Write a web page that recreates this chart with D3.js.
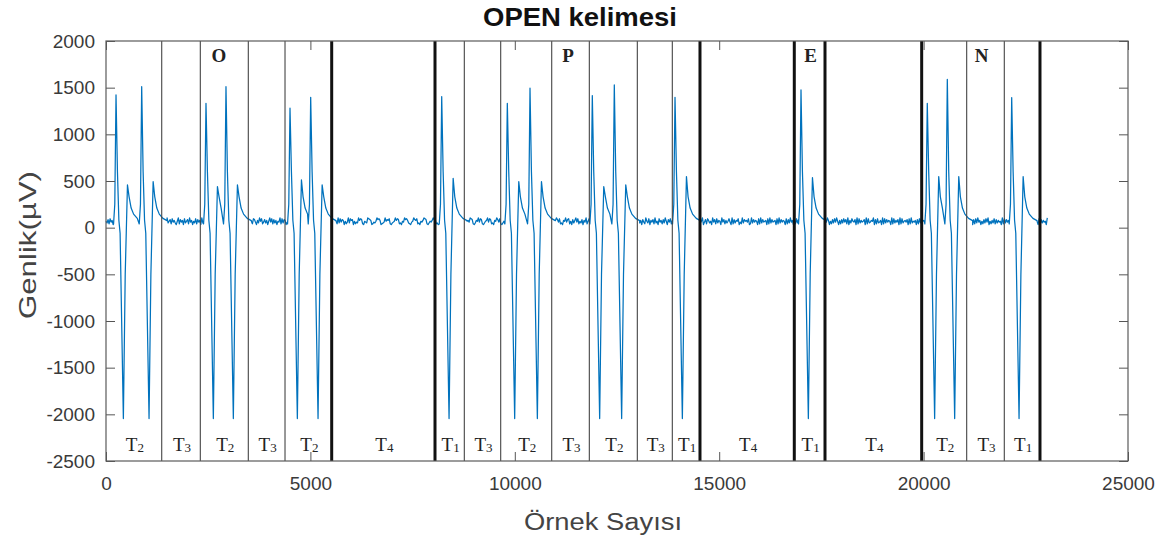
<!DOCTYPE html>
<html>
<head>
<meta charset="utf-8">
<script src="https://cdn.jsdelivr.net/npm/d3@7"></script>
<style>
  html, body { margin: 0; padding: 0; background: #ffffff; }
  svg { display: block; }
</style>
</head>
<body>
<svg id="chart" width="1163" height="543"></svg>
<script>
// ---- Axis ticks ----
const xTicks = [0, 5000, 10000, 15000, 20000, 25000];
const yTicks = [2000, 1500, 1000, 500, 0, -500, -1000, -1500, -2000, -2500];

// ---- Eye-movement events (sample index of the positive spike) ----
const spikeSamples = [245, 873, 2446, 2935, 4501, 5007, 8212, 9817, 10372, 11896, 12434, 13919, 17001, 20090, 20580, 22155];
const spikePeaks   = [1422, 1511, 1333, 1511, 1280, 1397, 1404, 1333, 1494, 1415, 1529, 1397, 1476, 1333, 1590, 1394];
const spikeTroughs = [-2045, -2045, -2045, -2045, -2045, -2045, -2045, -2045, -2045, -2045, -2045, -2045, -2045, -2045, -2045, -2045];
const spikeHumps   = [458, 493, 440, 458, 511, 458, 529, 493, 493, 440, 458, 547, 536, 547, 547, 547];

// Waveform of one event: sample offset from the spike and amplitude (µV)
const waveOffsets = [-60, -30, 0, 35, 70, 100, 180, 225, 280, 320, 370, 430, 520, 620];
const waveValues  = [40, 250, "peak", 600, 80, -60, "trough", -500, "hump", 330, 210, 145, 100, 75];

// Resting level between events and its jitter (one digit every 25 samples)
const restLevel = 64;
const restJitter =
  "53728461935728463159274618357294615382746193528741" +
  "63958247361594827361549283761452938476152493867152" +
  "43968721543987612435978612349576821345968723154978" +
  "63214597682315469872135469782315649872136594872135" +
  "69487231659748213569748231659478251736948253716492" +
  "58361742953816472935184627395174826359147286351947" +
  "28365194726358419273658142937564812937465182937456" +
  "18293745618293746518273946152837496152738495162738" +
  "47291638547192836457192834659172834619283746519283" +
  "64719283564718293546172839465172839461527384915263" +
  "82736451928374651827364519283746518293746152839746" +
  "39184726539184726354918276345918276349518273645192" +
  "75318264937518246397518264937152846397152486392751";
const recordLength = 23050;

// ---- Segment boundaries and labels ----
const boundarySamples = [1363, 2307, 3481, 4379, 5521, 8048, 8765, 9655, 10903, 11823, 12997, 13853, 14530, 16837, 17588, 19953, 21054, 21974, 22847];
const boundaryHeavy   = [false, false, false, false, true, true, false, false, false, false, false, false, true, true, true, true, false, false, true];
const segmentTypes    = [2, 3, 2, 3, 2, 4, 1, 3, 2, 3, 2, 3, 1, 4, 1, 4, 2, 3, 1];
const letters         = ["O", "P", "E", "N"];
const letterSamples   = [2764, 11301, 17238, 21421];

// ---- Layout ----
const svg = d3.select("#chart");
const plot = { left: 106, right: 1128, top: 41, bottom: 461 };

const x = d3.scaleLinear().domain([0, 25000]).range([plot.left, plot.right]);
const y = d3.scaleLinear().domain([-2500, 2000]).range([plot.bottom, plot.top]);

// ---- Build the trace ----
const trace = [];
let jitterIdx = 0;
function addRest(from, to) {
  for (let s = from; s < to; s += 25) {
    const d = jitterIdx < restJitter.length ? +restJitter[jitterIdx] : 4.5;
    jitterIdx++;
    trace.push([s, restLevel + (d - 4.5) * 9]);
  }
}
let cursor = 0;
spikeSamples.forEach((s, i) => {
  const start = s + waveOffsets[0];
  addRest(cursor, start);
  const limit = i < spikeSamples.length - 1
    ? Math.min(s + waveOffsets[waveOffsets.length - 1] + 1, spikeSamples[i + 1] + waveOffsets[0])
    : s + waveOffsets[waveOffsets.length - 1] + 1;
  waveOffsets.forEach((dt, k) => {
    if (s + dt >= limit) return;
    let v = waveValues[k];
    if (v === "peak") v = spikePeaks[i];
    else if (v === "trough") v = spikeTroughs[i];
    else if (v === "hump") v = spikeHumps[i];
    trace.push([s + dt, v]);
  });
  cursor = limit;
});
addRest(cursor, recordLength);

// ---- Signal ----
svg.append("path")
  .datum(trace)
  .attr("fill", "none")
  .attr("stroke", "#0072BD")
  .attr("stroke-width", 1.25)
  .attr("stroke-linejoin", "round")
  .attr("d", d3.line().x(d => x(d[0])).y(d => y(d[1])));

// ---- Segment dividers ----
svg.append("g").selectAll("line")
  .data(boundarySamples)
  .join("line")
  .attr("x1", d => x(d)).attr("x2", d => x(d))
  .attr("y1", plot.top).attr("y2", plot.bottom)
  .attr("stroke", (d, i) => boundaryHeavy[i] ? "#111" : "#444")
  .attr("stroke-width", (d, i) => boundaryHeavy[i] ? 3 : 1.1);

// ---- Segment labels (T with subscript) ----
const edges = [0].concat(boundarySamples);
const segLabels = svg.append("g")
  .attr("font-family", "'Liberation Serif', 'Times New Roman', serif")
  .attr("fill", "#222");
segmentTypes.forEach((t, i) => {
  const cx = (x(edges[i]) + x(edges[i + 1])) / 2;
  const txt = segLabels.append("text")
    .attr("x", cx + 1)
    .attr("y", 451)
    .attr("text-anchor", "middle")
    .attr("font-size", 19);
  txt.append("tspan").text("T");
  txt.append("tspan").attr("font-size", 13).attr("dy", 1).text(t);
});

// ---- Letter markers ----
svg.append("g").selectAll("text")
  .data(letters)
  .join("text")
  .attr("x", (d, i) => x(letterSamples[i]))
  .attr("y", 62)
  .attr("text-anchor", "middle")
  .attr("font-family", "'Liberation Serif', 'Times New Roman', serif")
  .attr("font-weight", "bold")
  .attr("font-size", 19)
  .attr("fill", "#222")
  .text(d => d);

// ---- Axes (ticks pointing inward, box style) ----
const tickLen = 9;
const axisFont = "'Liberation Sans', Arial, Helvetica, sans-serif";
const plain = d => String(d);
function styleAxis(g) {
  g.select(".domain").remove();
  g.selectAll(".tick line").attr("stroke", "#555");
  g.selectAll(".tick text").attr("fill", "#3a3a3a").attr("font-size", 19).attr("font-family", axisFont);
}
svg.append("g").attr("transform", `translate(${plot.left},0)`)
  .call(d3.axisLeft(y).tickValues(yTicks).tickSizeInner(-tickLen).tickSizeOuter(0).tickPadding(11).tickFormat(plain))
  .call(styleAxis);
svg.append("g").attr("transform", `translate(${plot.right},0)`)
  .call(d3.axisRight(y).tickValues(yTicks).tickSizeInner(-tickLen).tickSizeOuter(0).tickFormat(""))
  .call(styleAxis);
svg.append("g").attr("transform", `translate(0,${plot.bottom})`)
  .call(d3.axisBottom(x).tickValues(xTicks).tickSizeInner(-tickLen).tickSizeOuter(0).tickPadding(16).tickFormat(plain))
  .call(styleAxis);
svg.append("g").attr("transform", `translate(0,${plot.top})`)
  .call(d3.axisTop(x).tickValues(xTicks).tickSizeInner(-tickLen).tickSizeOuter(0).tickFormat(""))
  .call(styleAxis);

// ---- Frame ----
svg.append("rect")
  .attr("x", plot.left).attr("y", plot.top)
  .attr("width", plot.right - plot.left).attr("height", plot.bottom - plot.top)
  .attr("fill", "none").attr("stroke", "#5a5a5a").attr("stroke-width", 1.2);

// ---- Titles ----
svg.append("text")
  .attr("x", 580).attr("y", 26)
  .attr("text-anchor", "middle")
  .attr("font-family", axisFont)
  .attr("font-weight", "bold")
  .attr("font-size", 25)
  .attr("textLength", 194)
  .attr("lengthAdjust", "spacingAndGlyphs")
  .attr("fill", "#111")
  .text("OPEN kelimesi");

svg.append("text")
  .attr("x", 603).attr("y", 530)
  .attr("text-anchor", "middle")
  .attr("font-family", axisFont)
  .attr("font-size", 23)
  .attr("textLength", 158)
  .attr("lengthAdjust", "spacingAndGlyphs")
  .attr("fill", "#444")
  .text("Örnek Sayısı");

svg.append("text")
  .attr("transform", "translate(36,245) rotate(-90)")
  .attr("text-anchor", "middle")
  .attr("font-family", axisFont)
  .attr("font-size", 24)
  .attr("textLength", 148)
  .attr("lengthAdjust", "spacingAndGlyphs")
  .attr("fill", "#444")
  .text("Genlik(µV)");
</script>
</body>
</html>
